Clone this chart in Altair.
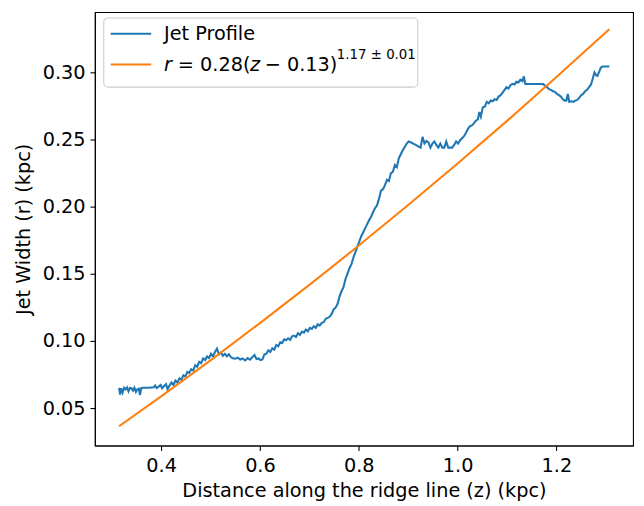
import altair as alt
import pandas as pd

# ---- data ----
profile_z = [0.315, 0.317, 0.319, 0.322, 0.325, 0.328, 0.331, 0.334, 0.337, 0.340, 0.343, 0.346, 0.349,
             0.352, 0.355, 0.357, 0.360, 0.365, 0.375, 0.385, 0.388, 0.391, 0.395, 0.399, 0.402, 0.406,
             0.410, 0.413, 0.417, 0.421, 0.425, 0.429, 0.433, 0.437, 0.441, 0.445, 0.449, 0.453, 0.457,
             0.461, 0.465, 0.469, 0.473, 0.477, 0.481, 0.485, 0.489, 0.493, 0.497, 0.501, 0.505, 0.509,
             0.513, 0.517, 0.521, 0.525, 0.529, 0.533, 0.537, 0.541, 0.545, 0.550, 0.555, 0.560, 0.565,
             0.570, 0.575, 0.580, 0.585, 0.589, 0.593, 0.597, 0.601, 0.605, 0.609, 0.613, 0.617, 0.621,
             0.625, 0.629, 0.633, 0.637, 0.641, 0.645, 0.649, 0.653, 0.657, 0.661, 0.665, 0.669, 0.673,
             0.677, 0.681, 0.685, 0.689, 0.693, 0.697, 0.701, 0.705, 0.709, 0.713, 0.717, 0.721, 0.725,
             0.729, 0.733, 0.737, 0.741, 0.745, 0.749, 0.753, 0.757, 0.761, 0.765, 0.769, 0.773, 0.777,
             0.781, 0.785, 0.789, 0.793, 0.797, 0.801, 0.805, 0.809, 0.813, 0.817, 0.821, 0.825, 0.829,
             0.833, 0.837, 0.841, 0.845, 0.849, 0.853, 0.857, 0.861, 0.865, 0.869, 0.873, 0.877, 0.881,
             0.885, 0.889, 0.893, 0.897, 0.901, 0.905, 0.915, 0.925, 0.929, 0.933, 0.937, 0.941, 0.945,
             0.949, 0.953, 0.957, 0.961, 0.965, 0.969, 0.973, 0.977, 0.981, 0.985, 0.989, 0.993, 0.997,
             1.001, 1.005, 1.009, 1.013, 1.017, 1.021, 1.025, 1.029, 1.033, 1.037, 1.041, 1.044, 1.047,
             1.051, 1.055, 1.059, 1.063, 1.067, 1.071, 1.075, 1.079, 1.083, 1.087, 1.091, 1.095, 1.099,
             1.103, 1.107, 1.111, 1.115, 1.119, 1.123, 1.127, 1.131, 1.134, 1.137, 1.173, 1.177, 1.181,
             1.185, 1.189, 1.193, 1.197, 1.201, 1.205, 1.209, 1.213, 1.217, 1.220, 1.223, 1.226, 1.230,
             1.234, 1.238, 1.242, 1.246, 1.250, 1.254, 1.258, 1.262, 1.266, 1.270, 1.274, 1.277, 1.280,
             1.283, 1.287, 1.290, 1.293, 1.307]
profile_r = [0.0650, 0.0600, 0.0648, 0.0615, 0.0652, 0.0640, 0.0655, 0.0625, 0.0650, 0.0648, 0.0630, 0.0652, 0.0620,
             0.0640, 0.0645, 0.0598, 0.0650, 0.0652, 0.0652, 0.0655, 0.0668, 0.0650, 0.0660, 0.0672, 0.0648, 0.0665,
             0.0678, 0.0640, 0.0668, 0.0690, 0.0672, 0.0705, 0.0690, 0.0722, 0.0710, 0.0745, 0.0735, 0.0770, 0.0762,
             0.0790, 0.0780, 0.0820, 0.0808, 0.0845, 0.0835, 0.0870, 0.0858, 0.0885, 0.0872, 0.0905, 0.0885, 0.0918,
             0.0942, 0.0900, 0.0912, 0.0890, 0.0905, 0.0885, 0.0902, 0.0880, 0.0872, 0.0868, 0.0875, 0.0862, 0.0870,
             0.0855, 0.0872, 0.0860, 0.0880, 0.0895, 0.0865, 0.0870, 0.0858, 0.0862, 0.0900, 0.0905, 0.0930, 0.0918,
             0.0945, 0.0935, 0.0970, 0.0960, 0.0990, 0.0985, 0.1012, 0.1005, 0.1020, 0.1008, 0.1035, 0.1040, 0.1030,
             0.1058, 0.1045, 0.1070, 0.1062, 0.1085, 0.1072, 0.1098, 0.1090, 0.1110, 0.1098, 0.1125, 0.1115, 0.1135,
             0.1140, 0.1165, 0.1172, 0.1180, 0.1200, 0.1235, 0.1248, 0.1275, 0.1330, 0.1370, 0.1400, 0.1460, 0.1500,
             0.1540, 0.1570, 0.1620, 0.1660, 0.1700, 0.1740, 0.1780, 0.1810, 0.1840, 0.1870, 0.1900, 0.1925, 0.1960,
             0.1990, 0.2010, 0.2060, 0.2120, 0.2130, 0.2160, 0.2200, 0.2190, 0.2250, 0.2260, 0.2310, 0.2295, 0.2360,
             0.2390, 0.2420, 0.2445, 0.2470, 0.2485, 0.2480, 0.2460, 0.2440, 0.2520, 0.2470, 0.2490, 0.2478, 0.2440,
             0.2470, 0.2485, 0.2460, 0.2440, 0.2470, 0.2440, 0.2440, 0.2485, 0.2440, 0.2440, 0.2440, 0.2460, 0.2485,
             0.2470, 0.2495, 0.2510, 0.2525, 0.2550, 0.2580, 0.2600, 0.2605, 0.2620, 0.2640, 0.2650, 0.2705, 0.2670,
             0.2740, 0.2745, 0.2780, 0.2770, 0.2790, 0.2785, 0.2800, 0.2795, 0.2820, 0.2830, 0.2850, 0.2870, 0.2890,
             0.2880, 0.2905, 0.2915, 0.2910, 0.2930, 0.2925, 0.2945, 0.2935, 0.2970, 0.2914, 0.2914, 0.2900, 0.2890,
             0.2875, 0.2870, 0.2860, 0.2855, 0.2840, 0.2830, 0.2820, 0.2800, 0.2790, 0.2790, 0.2840, 0.2780, 0.2785,
             0.2780, 0.2790, 0.2795, 0.2810, 0.2830, 0.2840, 0.2860, 0.2870, 0.2890, 0.2910, 0.2960, 0.3000, 0.2980,
             0.2975, 0.3010, 0.3035, 0.3044, 0.3044]

fit_z = [0.315, 0.40, 0.50, 0.60, 0.70, 0.80, 0.90, 1.00, 1.10, 1.20, 1.307]
fit_r = [0.0365, 0.0587, 0.0856, 0.1133, 0.1418, 0.1711, 0.2013, 0.2322, 0.2639, 0.2965, 0.3322]

x_ticks = [0.4, 0.6, 0.8, 1.0, 1.2]
y_ticks = [0.05, 0.10, 0.15, 0.20, 0.25, 0.30]

BLUE = "#1f77b4"
ORANGE = "#ff7f0e"
FONT = "DejaVu Sans"

profile = pd.DataFrame({"z": profile_z, "r": profile_r})
fit = pd.DataFrame({"z": fit_z, "r": fit_r})
one = pd.DataFrame({"k": [0]})

xenc = alt.X("z:Q", scale=alt.Scale(domain=[0.266, 1.355], nice=False, zero=False),
             axis=alt.Axis(values=x_ticks, format=".1f", labelPadding=6, titlePadding=7,
                           title="Distance along the ridge line (z) (kpc)"))
yenc = alt.Y("r:Q", scale=alt.Scale(domain=[0.0221, 0.3449], nice=False, zero=False),
             axis=alt.Axis(values=y_ticks, format=".2f", labelPadding=5, titlePadding=9,
                           title="Jet Width (r) (kpc)"))

line_profile = alt.Chart(profile).mark_line(color=BLUE, strokeWidth=2.1).encode(x=xenc, y=yenc)
line_fit = alt.Chart(fit).mark_line(color=ORANGE, strokeWidth=2.1, interpolate="monotone").encode(
    x="z:Q", y="r:Q")

# manual legend
box = alt.Chart(one).mark_rect(cornerRadius=4, fill="white", fillOpacity=0.8,
                               stroke="#cccccc", strokeWidth=1.1).encode(
    x=alt.value(9), x2=alt.value(327), y=alt.value(6), y2=alt.value(76))
sw_blue = alt.Chart(one).mark_rule(color=BLUE, strokeWidth=2.1).encode(
    x=alt.value(16), x2=alt.value(57), y=alt.value(22))
sw_orange = alt.Chart(one).mark_rule(color=ORANGE, strokeWidth=2.1).encode(
    x=alt.value(16), x2=alt.value(57), y=alt.value(53))


def txt(s, x, y, size=19.5, style="normal"):
    return alt.Chart(one).mark_text(align="left", baseline="middle", font=FONT, fontSize=size,
                                    fontStyle=style, color="black").encode(
        x=alt.value(x), y=alt.value(y), text=alt.value(s))


legend = [
    box, sw_blue, sw_orange,
    txt("Jet Profile", 70, 22),
    txt("r", 70, 54, style="italic"),
    txt("= 0.28(", 84, 54),
    txt("z", 157, 54, style="italic"),
    txt("\u2212 0.13)", 172, 54),
    txt("1.17 \u00b1 0.01", 245, 44, size=13.5),
]

chart = alt.layer(line_profile, line_fit, *legend).properties(
    width=545, height=439,
    autosize=alt.AutoSizeParams(type="none"),
    padding={"left": 88, "top": 1, "right": 3, "bottom": 55},
).configure_view(stroke="black", strokeWidth=1.1).configure_axis(
    grid=False, domainColor="black", domainWidth=1.1, tickColor="black", tickWidth=1.1,
    tickSize=5, labelFont=FONT, titleFont=FONT, labelFontSize=19.5, titleFontSize=19.5,
    labelColor="black", titleColor="black", titleFontWeight="normal",
)

chart.save("out.html", embed_options={"renderer": "svg", "actions": False})
